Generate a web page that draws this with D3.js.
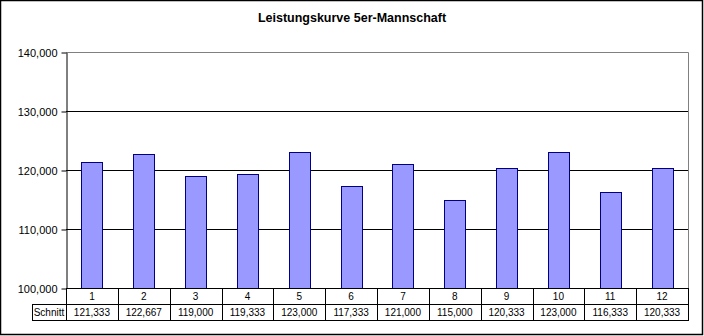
<!DOCTYPE html>
<html>
<head>
<meta charset="utf-8">
<script src="https://cdn.jsdelivr.net/npm/d3@7"></script>
<style>
  html, body { margin: 0; padding: 0; background: #fff; }
  svg { display: block; font-family: "Liberation Sans", Arial, sans-serif; }
</style>
</head>
<body>
<svg id="chart" width="704" height="336"></svg>
<script>
// Team performance per round (average score, thousands)
const title = "Leistungskurve 5er-Mannschaft";
const rounds = ["1", "2", "3", "4", "5", "6", "7", "8", "9", "10", "11", "12"];
const schnitt = [121.333, 122.667, 119.000, 119.333, 123.000, 117.333, 121.000, 115.000, 120.333, 123.000, 116.333, 120.333];
const rowLabel = "Schnitt";
const yTicks = [100, 110, 120, 130, 140];

const svg = d3.select("#chart");
const plotL = 66, plotR = 688, plotT = 52, plotB = 288;
const rowH = 16;

// German number format: comma as decimal separator
const fmt = v => d3.format(".3f")(v).replace(".", ",");

// outer frame
svg.append("rect").attr("x", 0.5).attr("y", 0.5).attr("width", 702).attr("height", 334)
  .attr("fill", "#fff").attr("stroke", "#000").attr("stroke-width", 1.5);

svg.append("text").attr("x", 352).attr("y", 22).attr("text-anchor", "middle")
  .attr("font-size", 12.5).attr("font-weight", "bold").text(title);

const x = d3.scaleBand().domain(rounds).range([plotL, plotR]);
const y = d3.scaleLinear().domain([100, 140]).range([plotB, plotT]);

// gridlines
svg.append("g").selectAll("line").data(yTicks.filter(t => t > 100 && t < 140)).join("line")
  .attr("x1", plotL).attr("x2", plotR)
  .attr("y1", d => Math.round(y(d)) + 0.5).attr("y2", d => Math.round(y(d)) + 0.5)
  .attr("stroke", "#000");

// plot area border (top & right grey)
svg.append("path")
  .attr("d", `M${plotL},${plotT + 0.5}H${plotR + 0.5}V${plotB}`)
  .attr("fill", "none").attr("stroke", "#808080");

// bars
const bw = 21;
svg.append("g").selectAll("rect").data(schnitt).join("rect")
  .attr("x", (d, i) => Math.round(x(rounds[i]) + x.bandwidth() / 2 - bw / 2) + 0.5)
  .attr("y", d => Math.round(y(d)) + 0.5)
  .attr("width", bw)
  .attr("height", d => Math.round(y(100)) - Math.round(y(d)))
  .attr("fill", "#9999FF").attr("stroke", "#000080");

// y axis
const yAxis = d3.axisLeft(y).tickValues(yTicks).tickSize(5).tickSizeOuter(0).tickFormat(fmt);
const ga = svg.append("g").attr("transform", `translate(${plotL + 0.5},0.5)`).call(yAxis);
ga.selectAll("path,line").attr("stroke", "#000");
ga.selectAll("text").attr("font-size", 11).attr("fill", "#000")
  .attr("font-family", "Liberation Sans, Arial, sans-serif").attr("x", -9);

// data table
const tbl = svg.append("g").attr("stroke", "#000").attr("fill", "none");
tbl.append("line").attr("x1", plotL).attr("x2", plotR + 0.5).attr("y1", plotB + 0.5).attr("y2", plotB + 0.5);
tbl.append("line").attr("x1", 32).attr("x2", plotR + 0.5).attr("y1", plotB + rowH + 0.5).attr("y2", plotB + rowH + 0.5);
tbl.append("line").attr("x1", 32).attr("x2", plotR + 0.5).attr("y1", plotB + 2 * rowH + 0.5).attr("y2", plotB + 2 * rowH + 0.5);
tbl.append("line").attr("x1", 32.5).attr("x2", 32.5).attr("y1", plotB + rowH).attr("y2", plotB + 2 * rowH + 1);
tbl.selectAll("line.col").data(rounds.concat(["end"])).join("line").attr("class", "col")
  .attr("x1", (d, i) => Math.round(plotL + i * x.bandwidth()) + 0.5)
  .attr("x2", (d, i) => Math.round(plotL + i * x.bandwidth()) + 0.5)
  .attr("y1", plotB).attr("y2", plotB + 2 * rowH + 1);

svg.append("g").selectAll("text").data(rounds).join("text")
  .attr("x", d => x(d) + x.bandwidth() / 2).attr("y", plotB + 12)
  .attr("text-anchor", "middle").attr("font-size", 10).text(d => d);
svg.append("g").selectAll("text").data(schnitt).join("text")
  .attr("x", (d, i) => x(rounds[i]) + x.bandwidth() / 2).attr("y", plotB + rowH + 12)
  .attr("text-anchor", "middle").attr("font-size", 10).text(d => fmt(d));
svg.append("text").attr("x", 49).attr("y", plotB + rowH + 12)
  .attr("text-anchor", "middle").attr("font-size", 10).text(rowLabel);
</script>
</body>
</html>
